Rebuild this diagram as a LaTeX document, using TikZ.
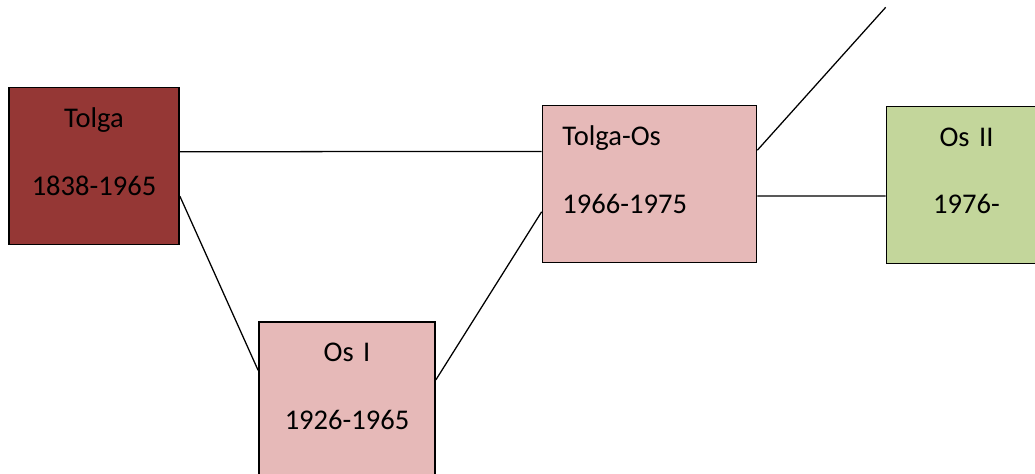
\documentclass[tikz,border=0pt]{standalone}
\usepackage{fontspec}
\setmainfont{Carlito}
\usepackage{xcolor}
\usetikzlibrary{calc}
\definecolor{darkred}{HTML}{953735}
\definecolor{lightred}{HTML}{E6B9B8}
\definecolor{lightgreen}{HTML}{C3D69B}
\tikzset{
    period/.style={draw, line width=1.2pt, inner sep=0pt, minimum height=3.925cm,
        text depth=2.4cm, font=\fontsize{20.3}{48}\selectfont},
    link/.style={line width=0.9pt}
}

\begin{document}
\begin{tikzpicture}[x=0.025cm, y=-0.025cm]
            \useasboundingbox (0, 0) rectangle (1035, 474);
            \clip (0, 0) rectangle (1035, 474);
            \node[period, fill=darkred, align=center, text width=4.25cm] (tolga) at (94, 166) {Tolga\\1838-1965};
            \node[period, fill=lightred, align=center, text width=4.4cm] (osI) at (347, 400.5) {Os I\\1926-1965};
            \node[period, fill=lightred, align=left, text width=4.35cm, inner xsep=0.5cm] (tolgaos) at (649.5, 184) {Tolga-Os\\1966-1975};
            \node[period, fill=lightgreen, align=center, text width=4.0cm] (osII) at (966.5, 185) {Os II\\1976-};
            \coordinate (next) at (885.7, 7.3);
            \draw[link] ($(tolga.north east)!.41!(tolga.south east)$) -- ($(tolgaos.north west)!.295!(tolgaos.south west)$);
            \draw[link] ($(tolga.north east)!.69!(tolga.south east)$) -- ($(osI.north west)!.31!(osI.south west)$);
            \draw[link] ($(osI.north east)!.37!(osI.south east)$) -- ($(tolgaos.north west)!.675!(tolgaos.south west)$);
            \draw[link] ($(tolgaos.north east)!.287!(tolgaos.south east)$) -- (next);
            \draw[link] ($(tolgaos.north east)!.575!(tolgaos.south east)$) -- ($(osII.north west)!.57!(osII.south west)$);
        \end{tikzpicture}
\end{document}
